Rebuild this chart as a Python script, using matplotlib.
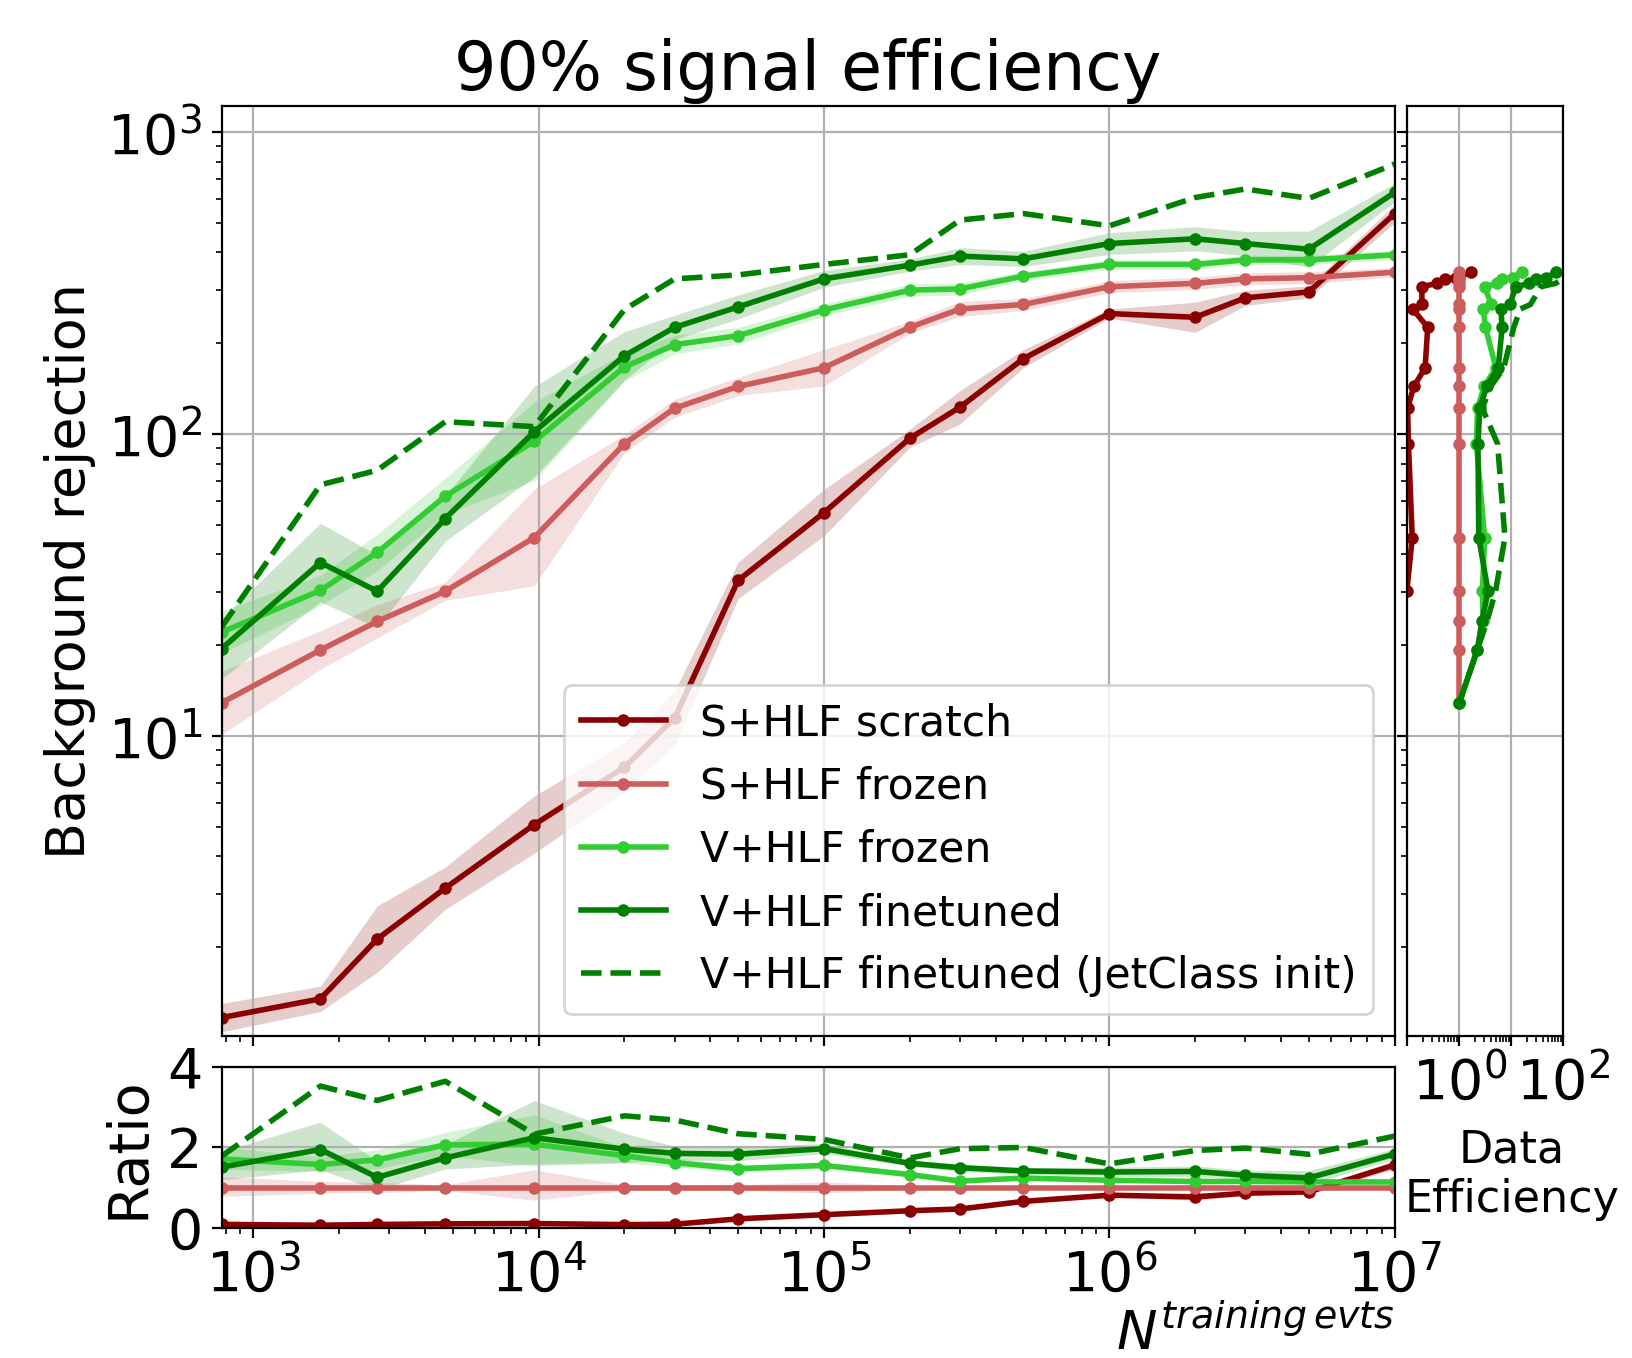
import matplotlib
matplotlib.use("Agg")
import matplotlib.pyplot as plt
import numpy as np

# training-set sizes
N_EVTS = [775, 1720, 2720, 4710, 9660, 2e4, 3e4, 5e4, 1e5, 2e5, 3e5, 5e5,
          1e6, 2e6, 3e6, 5e6, 1e7]

# background rejection at 90% signal efficiency
SCRATCH_S = [1.17, 1.35, 2.13, 3.14, 5.1, 7.9, 11.5, 32.8, 55, 97, 123, 178,
             251, 244, 283, 296, 538]
FROZEN_S = [12.9, 19.3, 24, 30.2, 45.5, 93, 122, 144, 166, 226, 260, 269,
            308, 316, 327, 330, 344]
FROZEN_V = [22.1, 30.4, 40.6, 62.4, 94.7, 167, 198, 212, 258, 300, 303, 334,
            365, 365, 378, 378, 393]
FINETUNED_V = [19.5, 37.6, 30.2, 52.6, 102, 182, 226, 264, 327, 363, 389, 381,
               428, 444, 428, 410, 632]
FINETUNED_JC = [23, 68, 76, 110, 106, 259, 327, 337, 365, 393, 512, 538,
                490, 608, 649, 604, 785]

# half-width of the spread band, in decades
SCRATCH_S_ERR = [0.047, 0.042, 0.11, 0.07, 0.095, 0.08, 0.09, 0.06, 0.077,
                 0.03, 0.055, 0.03, 0.015, 0.05, 0.025, 0.02, 0.03]
FROZEN_S_ERR = [0.105, 0.064, 0.055, 0.03, 0.16, 0.03, 0.03, 0.03, 0.06,
                0.02, 0.025, 0.02, 0.02, 0.02, 0.02, 0.02, 0.015]
FROZEN_V_ERR = [0.07, 0.05, 0.06, 0.06, 0.13, 0.047, 0.03, 0.028, 0.02,
                0.02, 0.02, 0.015, 0.015, 0.015, 0.015, 0.015, 0.015]
FINETUNED_V_ERR = [0.1, 0.13, 0.12, 0.075, 0.15, 0.08, 0.04, 0.04, 0.028,
                   0.02, 0.028, 0.025, 0.036, 0.04, 0.04, 0.06, 0.03]

SERIES = [
    ("S+HLF scratch", SCRATCH_S, SCRATCH_S_ERR, "darkred", "-"),
    ("S+HLF frozen", FROZEN_S, FROZEN_S_ERR, "indianred", "-"),
    ("V+HLF frozen", FROZEN_V, FROZEN_V_ERR, "limegreen", "-"),
    ("V+HLF finetuned", FINETUNED_V, FINETUNED_V_ERR, "green", "-"),
    ("V+HLF finetuned (JetClass init)", FINETUNED_JC, None, "green", "--"),
]

plt.rcParams["font.size"] = 20

x = np.array(N_EVTS)
ref = np.array(FROZEN_S)


def data_efficiency(rej):
    # events the reference needs / events this model needs, at the reference's rejection
    logn = np.interp(np.log10(ref), np.log10(rej), np.log10(x))
    return x / 10 ** logn


fig = plt.figure(figsize=(8.16, 6.79), dpi=200)
ax = fig.add_axes([0.1358, 0.2374, 0.7188, 0.6844])
ax_r = fig.add_axes([0.1358, 0.0957, 0.7188, 0.1187], sharex=ax)
ax_e = fig.add_axes([0.8623, 0.2374, 0.0956, 0.6844], sharey=ax)

for label, vals, err, color, ls in SERIES:
    vals = np.array(vals)
    if ls == "--":
        ax.plot(x, vals, ls, color=color, lw=2, label=label)
        ax_r.plot(x, vals / ref, ls, color=color, lw=2)
        ax_e.plot(data_efficiency(vals), ref, ls, color=color, lw=2)
        continue
    lo = vals / 10 ** np.array(err)
    hi = vals * 10 ** np.array(err)
    ax.fill_between(x, lo, hi, color=color, alpha=0.2, lw=0)
    ax.plot(x, vals, "-o", color=color, lw=2, ms=3.5, label=label)
    ax_r.fill_between(x, lo / ref, hi / ref, color=color, alpha=0.2, lw=0)
    ax_r.plot(x, vals / ref, "-o", color=color, lw=2, ms=3.5)
    ax_e.plot(data_efficiency(vals), ref, "-o", color=color, lw=2, ms=3.5)

ax.set_xscale("log")
ax.set_yscale("log")
ax.set_xlim(x.min(), x.max())
ax.set_ylim(1.02, 1220)
ax.grid(True)
ax.tick_params(labelbottom=False)
ax.set_ylabel("Background rejection", fontsize=19.5)
ax.set_title("90% signal efficiency", fontsize=24)
ax.legend(loc="lower right", fontsize=15.3)

ax_r.set_ylim(0, 4)
ax_r.set_yticks([0, 2, 4])
ax_r.grid(True)
ax_r.set_ylabel("Ratio")
ax_r.set_xlabel(r"$N^{training\,evts}$", loc="right", fontsize=19.5)
ax_r.xaxis.set_label_coords(1.0, -0.49)

ax_e.set_xscale("log")
ax_e.set_xlim(0.1, 100)
ax_e.set_xticks([0.1, 1, 10, 100])
ax_e.set_xticklabels(["", r"$10^0$", "", r"$10^2$"])
ax_e.grid(True)
ax_e.tick_params(labelleft=False)
ax_e.set_xlabel("Data\nEfficiency", fontsize=16)
ax_e.xaxis.set_label_coords(0.67, -0.1)

fig.savefig("out.png", dpi=200)
